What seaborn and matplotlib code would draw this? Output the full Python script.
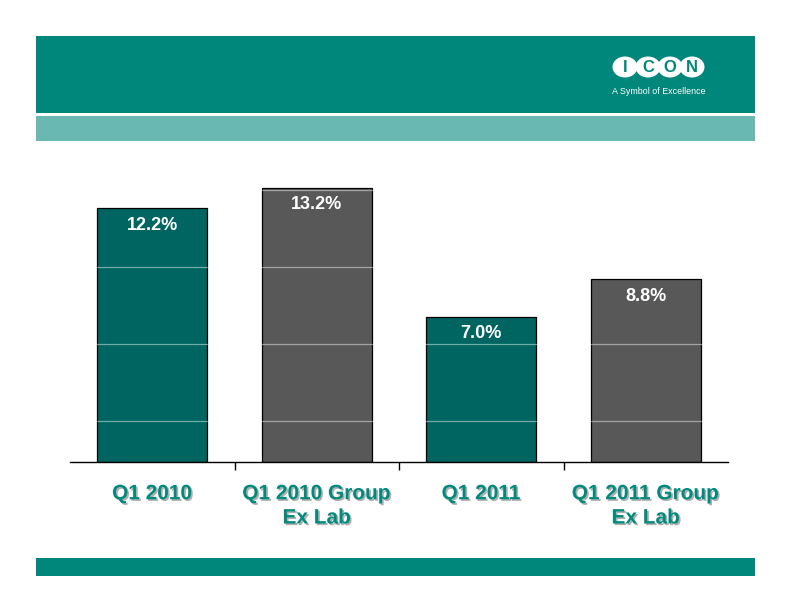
import matplotlib
matplotlib.use("Agg")
import matplotlib.pyplot as plt
import matplotlib.patheffects as pe
from matplotlib.patches import Rectangle, Ellipse
import seaborn as sns

# ---------------------------------------------------------------
# data
# ---------------------------------------------------------------
categories = ["Q1 2010", "Q1 2010 Group\nEx Lab", "Q1 2011", "Q1 2011 Group\nEx Lab"]
margins = [12.2, 13.2, 7.0, 8.8]
labels = ["12.2%", "13.2%", "7.0%", "8.8%"]

TEAL_DARK = "#006561"
GREY_BAR = "#585858"
BAND = "#00877B"
BAND_LIGHT = "#69B8B1"
LABEL_TEAL = "#008A7E"
bar_colors = [TEAL_DARK, GREY_BAR, TEAL_DARK, GREY_BAR]

sns.set_theme(style="white")
plt.rcParams["font.family"] = ["Liberation Sans", "DejaVu Sans"]

W, H = 792, 612
fig = plt.figure(figsize=(W / 100, H / 100), dpi=100)
fig.patch.set_facecolor("white")


def px_rect(x0, y0, x1, y1, color):
    fig.patches.append(Rectangle((x0 / W, 1 - y1 / H), (x1 - x0) / W, (y1 - y0) / H,
                                 transform=fig.transFigure, facecolor=color,
                                 edgecolor="none", zorder=0))


# slide bands
px_rect(36, 36, 755, 113, BAND)
px_rect(36, 116, 755, 141, BAND_LIGHT)
px_rect(36, 558, 755, 576, BAND)

# ICON logo
for cx, letter in zip([625, 648, 670, 692], "ICON"):
    fig.patches.append(Ellipse((cx / W, 1 - 67 / H), 25 / W, 21 / H,
                               transform=fig.transFigure, facecolor="white",
                               edgecolor="none", zorder=1))
for cx, letter in zip([625, 648, 670, 692], "ICON"):
    fig.text(cx / W, 1 - 67.5 / H, letter, color=BAND, fontsize=12,
             fontweight="bold", ha="center", va="center", zorder=2)
fig.text(659 / W, 1 - 91 / H, "A Symbol of Excellence", color="white",
         fontsize=6.4, ha="center", va="center")

# ---------------------------------------------------------------
# chart
# ---------------------------------------------------------------
ax = fig.add_axes([70 / W, 1 - 462 / H, 658 / W, 291 / H])
ax.set_facecolor("none")
sns.barplot(x=categories, y=margins, hue=categories, palette=bar_colors,
            legend=False, width=0.667, edgecolor="black", linewidth=0.9,
            saturation=1, ax=ax)

for bar, txt in zip(ax.patches, labels):
    ax.annotate(txt, xy=(bar.get_x() + bar.get_width() / 2, bar.get_height()),
                xytext=(0, -12.5), textcoords="offset points", ha="center",
                va="center", color="white", fontsize=13, fontweight="bold")

ax.set_xlim(-0.5, 3.5)
ax.set_ylim(0, 14)

# faint horizontal gridlines showing through the bars
ax.set_yticks([1.97, 5.67, 9.38, 13.08])
ax.set_yticklabels([])
ax.tick_params(axis="y", length=0)
ax.yaxis.grid(True, color="white", alpha=0.45, linewidth=0.9)
ax.set_axisbelow(False)

for side in ["top", "right", "left"]:
    ax.spines[side].set_visible(False)
ax.spines["bottom"].set_color("black")
ax.spines["bottom"].set_linewidth(1.0)

ax.set_xticks([0.5, 1.5, 2.5], minor=True)
ax.tick_params(axis="x", which="minor", bottom=True, length=6, width=1.0,
               color="black", direction="out")
ax.tick_params(axis="x", which="major", length=0, pad=16)
for t in ax.get_xticklabels():
    t.set_color(LABEL_TEAL)
    t.set_fontsize(15)
    t.set_fontweight("bold")
    t.set_linespacing(1.35)
    t.set_path_effects([pe.withSimplePatchShadow(offset=(1.2, -1.2),
                                                 shadow_rgbFace="#7a7a7a",
                                                 alpha=0.6)])
ax.set_xlabel("")
ax.set_ylabel("")

fig.savefig("out.png", dpi=100)
